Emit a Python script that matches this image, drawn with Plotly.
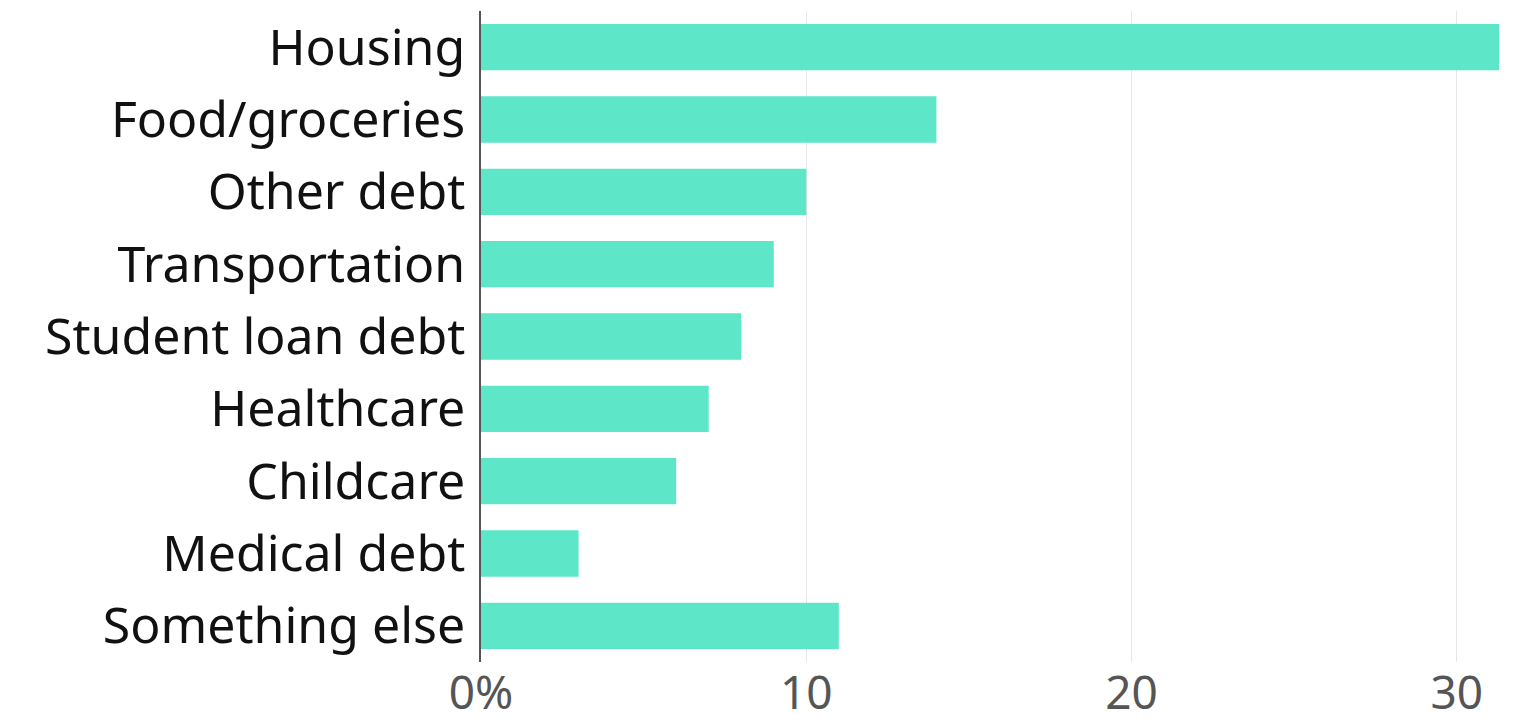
import plotly.graph_objects as go

categories = ["Housing", "Food/groceries", "Other debt", "Transportation",
              "Student loan debt", "Healthcare", "Childcare", "Medical debt",
              "Something else"]
values = [31.3, 14, 10, 9, 8, 7, 6, 3, 11]
tick_vals = [0, 10, 20, 30]
tick_text = ["0%", "10", "20", "30"]

fig = go.Figure(go.Bar(
    x=values, y=categories, orientation="h",
    marker=dict(color="#5ee6c8", line=dict(width=0)),
    hoverinfo="x+y",
))

fig.update_layout(
    width=1536, height=726,
    margin=dict(l=481, r=32, t=11, b=64),
    paper_bgcolor="white", plot_bgcolor="white",
    bargap=0.36,
    showlegend=False,
    font=dict(family="Noto Sans, sans-serif"),
)
fig.update_xaxes(
    range=[0, 31.45], automargin=False,
    tickvals=tick_vals, ticktext=tick_text,
    tickfont=dict(size=46, color="#555555"),
    showgrid=True, gridcolor="#e6e6e6", gridwidth=1,
    zeroline=False, showline=False,
    ticks="", ticklabelstandoff=0,
)
fig.update_yaxes(
    autorange="reversed", automargin=False,
    tickfont=dict(size=50, color="#111111"),
    showgrid=False, zeroline=False,
    showline=True, linecolor="#555555", linewidth=1.5,
    ticks="", ticklabelstandoff=4,
)

fig.write_html("out.html")
